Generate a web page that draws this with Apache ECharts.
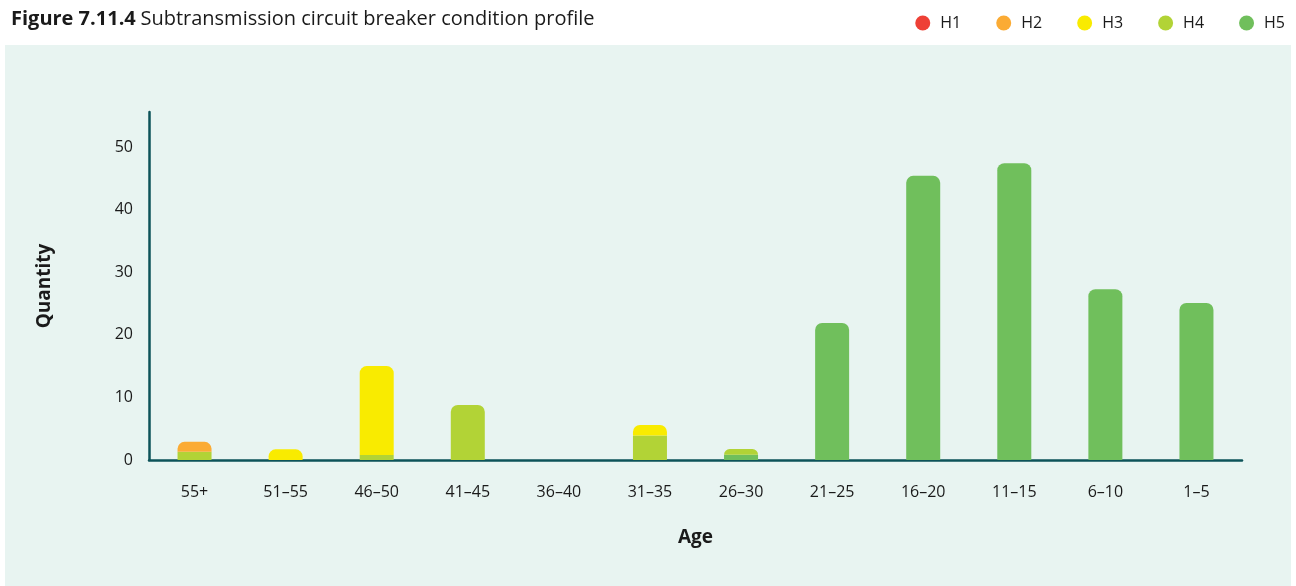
<!DOCTYPE html>
<html>
<head>
<meta charset="utf-8">
<script src="https://cdn.jsdelivr.net/npm/echarts@6/dist/echarts.min.js"></script>
<style>
  html, body { margin: 0; padding: 0; background: #ffffff; }
  #chart { width: 1296px; height: 586px; }
</style>
</head>
<body>
<div id="chart"></div>
<script>
// Age bands, oldest first
const ageBands = ['55+', '51–55', '46–50', '41–45', '36–40', '31–35', '26–30', '21–25', '16–20', '11–15', '6–10', '1–5'];

// Breaker counts per health index band
const h1 = [0, 0, 0, 0, 0, 0, 0, 0, 0, 0, 0, 0];
const h2 = [1.6, 0, 0, 0, 0, 0, 0, 0, 0, 0, 0, 0];
const h3 = [0, 1.7, 14.2, 0, 0, 1.7, 0, 0, 0, 0, 0, 0];
const h4 = [1.3, 0, 0.8, 8.8, 0, 3.9, 0.9, 0, 0, 0, 0, 0];
const h5 = [0, 0, 0, 0, 0, 0, 0.85, 21.9, 45.4, 47.4, 27.3, 25.1];

const yTicks = [0, 10, 20, 30, 40, 50];

const seriesDefs = [
  { name: 'H5', data: h5, color: '#70bf5c' },
  { name: 'H4', data: h4, color: '#b2d336' },
  { name: 'H3', data: h3, color: '#f9eb00' },
  { name: 'H2', data: h2, color: '#fbab34' },
  { name: 'H1', data: h1, color: '#ee4036' }
];

// Round only the uppermost non-zero segment of each stack
const topIndex = ageBands.map((_, i) => {
  let top = -1;
  seriesDefs.forEach((s, k) => { if (s.data[i] > 0) top = k; });
  return top;
});

const series = seriesDefs.map((s, k) => ({
  name: s.name,
  type: 'bar',
  stack: 'total',
  barWidth: 34,
  itemStyle: { color: s.color },
  emphasis: { disabled: true },
  data: s.data.map((v, i) => topIndex[i] === k
    ? { value: v, itemStyle: { borderRadius: [7, 7, 0, 0] } }
    : v)
}));

const font = '"Open Sans", Lato, sans-serif';
const chart = echarts.init(document.getElementById('chart'));
chart.setOption({
  backgroundColor: '#ffffff',
  animation: false,
  textStyle: { fontFamily: font },
  graphic: [{
    type: 'rect',
    z: -10,
    silent: true,
    shape: { x: 5, y: 45, width: 1286, height: 541 },
    style: { fill: '#e8f4f1' }
  }],
  title: {
    left: 6,
    top: 4,
    text: '{b|Figure 7.11.4} {r|Subtransmission circuit breaker condition profile}',
    textStyle: {
      rich: {
        b: { fontFamily: font, fontWeight: 'bold', fontSize: 20, color: '#1a1a1a' },
        r: { fontFamily: font, fontWeight: 'normal', fontSize: 20, color: '#1a1a1a' }
      }
    }
  },
  legend: {
    right: 6,
    top: 10,
    icon: 'circle',
    itemWidth: 15,
    itemHeight: 15,
    itemGap: 35,
    selectedMode: false,
    data: ['H1', 'H2', 'H3', 'H4', 'H5'],
    textStyle: { fontFamily: font, fontSize: 16, color: '#1a1a1a', padding: [0, 0, 0, 5] }
  },
  grid: { left: 149, right: 54, top: 112, bottom: 126 },
  xAxis: {
    type: 'category',
    data: ageBands,
    name: 'Age',
    nameLocation: 'middle',
    nameGap: 68,
    nameTextStyle: { fontFamily: font, fontSize: 19, fontWeight: 'bold', color: '#1a1a1a' },
    axisLine: { lineStyle: { color: '#0d5359', width: 2.5 } },
    axisTick: { show: false },
    axisLabel: { margin: 24, fontSize: 16, color: '#1a1a1a', fontFamily: font }
  },
  yAxis: {
    type: 'value',
    min: 0,
    max: 55.6,
    interval: 10,
    name: 'Quantity',
    nameLocation: 'middle',
    nameGap: 95,
    nameRotate: 90,
    nameTextStyle: { fontFamily: font, fontSize: 19, fontWeight: 'bold', color: '#1a1a1a' },
    axisLine: { show: true, lineStyle: { color: '#0d5359', width: 2.5 } },
    axisTick: { show: false },
    splitLine: { show: false },
    axisLabel: {
      margin: 16,
      fontSize: 16,
      color: '#1a1a1a',
      fontFamily: font,
      showMaxLabel: false,
      padding: [0, 0, 6, 0],
      formatter: v => (yTicks.indexOf(v) >= 0 ? String(v) : '')
    }
  },
  series: series
});
</script>
</body>
</html>
